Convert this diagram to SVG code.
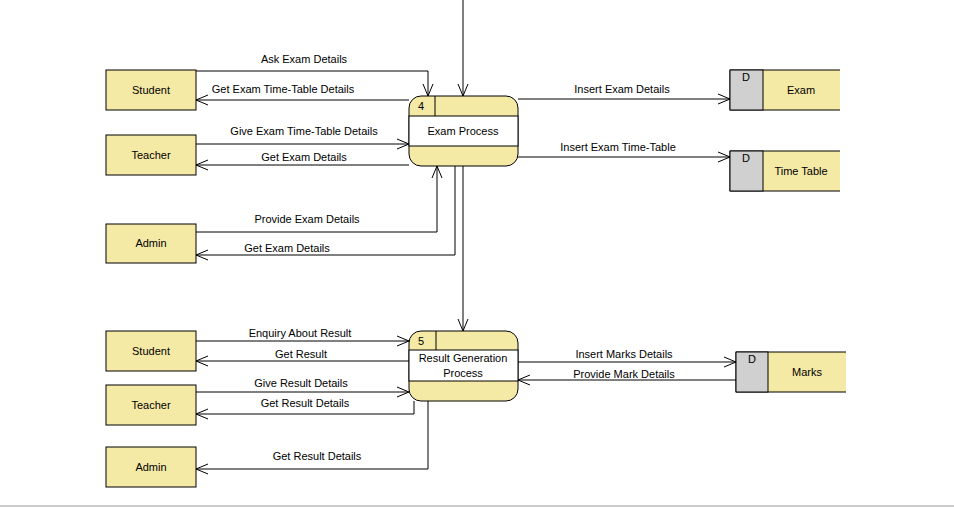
<svg xmlns="http://www.w3.org/2000/svg" width="954" height="508" viewBox="0 0 954 508">
<style>
.box{fill:#f5e9a6;stroke:#000;stroke-width:1}
.proc{fill:#f5e9a6;stroke:#000;stroke-width:1}
.w{fill:#fff;stroke:#000;stroke-width:1}
.g{fill:#d0d0d0;stroke:#000;stroke-width:1}
.l{fill:none;stroke:#000;stroke-width:1}
.c{fill:none;stroke:#000;stroke-width:1;marker-end:url(#a)}
text{font-family:"Liberation Sans",Arial,sans-serif;font-size:11px;fill:#000}
.m{text-anchor:middle}
</style>
<defs>
<marker id="a" viewBox="0 0 12 12" refX="12" refY="6" markerWidth="12" markerHeight="12" markerUnits="userSpaceOnUse" orient="auto"><path d="M0,1 L12,6 L0,11" fill="none" stroke="#000"/></marker>
</defs>
<rect width="954" height="508" fill="#fff"/>
<line x1="0" y1="506" x2="954" y2="506" stroke="#999"/>
<g id="connectors">
<path class="c" d="M196,71 H428 V96"/>
<text class="m" x="304" y="63">Ask Exam Details</text>
<path class="c" d="M409,100 H196"/>
<text class="m" x="283" y="93">Get Exam Time-Table Details</text>
<path class="c" d="M196,144 H409"/>
<text class="m" x="304" y="135">Give Exam Time-Table Details</text>
<path class="c" d="M409,165 H196"/>
<text class="m" x="304" y="161">Get Exam Details</text>
<path class="c" d="M196,232 H437 V166"/>
<text class="m" x="307" y="223">Provide Exam Details</text>
<path class="c" d="M455,166 V255 H196"/>
<text class="m" x="287" y="252">Get Exam Details</text>
<path class="c" d="M463,0 V96"/>
<path class="c" d="M463,166 V331"/>
<path class="c" d="M518,99 H730"/>
<text class="m" x="622" y="93">Insert Exam Details</text>
<path class="c" d="M518,157 H730"/>
<text class="m" x="618" y="151">Insert Exam Time-Table</text>
<path class="c" d="M196,341 H409"/>
<text class="m" x="300" y="337">Enquiry About Result</text>
<path class="c" d="M409,361 H196"/>
<text class="m" x="301" y="358">Get Result</text>
<path class="c" d="M196,392 H409"/>
<text class="m" x="301" y="387">Give Result Details</text>
<path class="c" d="M414,401 V414 H196"/>
<text class="m" x="305" y="407">Get Result Details</text>
<path class="c" d="M428,401 V469 H196"/>
<text class="m" x="317" y="460">Get Result Details</text>
<path class="c" d="M518,362 H736"/>
<text class="m" x="624" y="358">Insert Marks Details</text>
<path class="c" d="M736,380 H518"/>
<text class="m" x="624" y="378">Provide Mark Details</text>
</g>
<g id="student1"><rect class="box" x="106" y="70" width="90" height="40"/><text class="m" x="151" y="94">Student</text></g>
<g id="teacher1"><rect class="box" x="106" y="135" width="90" height="40"/><text class="m" x="151" y="159">Teacher</text></g>
<g id="admin1"><rect class="box" x="106" y="224" width="90" height="39"/><text class="m" x="151" y="247">Admin</text></g>
<g id="student2"><rect class="box" x="106" y="331" width="90" height="40"/><text class="m" x="151" y="355">Student</text></g>
<g id="teacher2"><rect class="box" x="106" y="385" width="90" height="40"/><text class="m" x="151" y="409">Teacher</text></g>
<g id="admin2"><rect class="box" x="106" y="447" width="90" height="40"/><text class="m" x="151" y="471">Admin</text></g>
<g id="p4">
<rect class="proc" x="409" y="96" width="109" height="70" rx="12"/>
<rect class="w" x="409" y="116" width="109" height="30"/>
<line class="l" x1="435" y1="96" x2="435" y2="116"/>
<text x="418" y="110">4</text>
<text class="m" x="463" y="135">Exam Process</text>
</g>
<g id="p5">
<rect class="proc" x="409" y="331" width="109" height="70" rx="12"/>
<rect class="w" x="409" y="350" width="109" height="31"/>
<line class="l" x1="436" y1="331" x2="436" y2="350"/>
<text x="418" y="345">5</text>
<text class="m" x="463" y="362">Result Generation</text>
<text class="m" x="463" y="377">Process</text>
</g>
<g id="exam">
<path class="box" d="M840,70 H730 V110 H840" />
<rect class="g" x="730" y="70" width="33" height="40"/>
<text class="m" x="746" y="81">D</text>
<text class="m" x="801" y="94">Exam</text>
</g>
<g id="timetable">
<path class="box" d="M840,151 H730 V191 H840"/>
<rect class="g" x="730" y="151" width="33" height="40"/>
<text class="m" x="746" y="162">D</text>
<text class="m" x="801" y="175">Time Table</text>
</g>
<g id="marks">
<path class="box" d="M846,352 H736 V392 H846"/>
<rect class="g" x="736" y="352" width="32" height="40"/>
<text class="m" x="752" y="363">D</text>
<text class="m" x="807" y="376">Marks</text>
</g>
</svg>
